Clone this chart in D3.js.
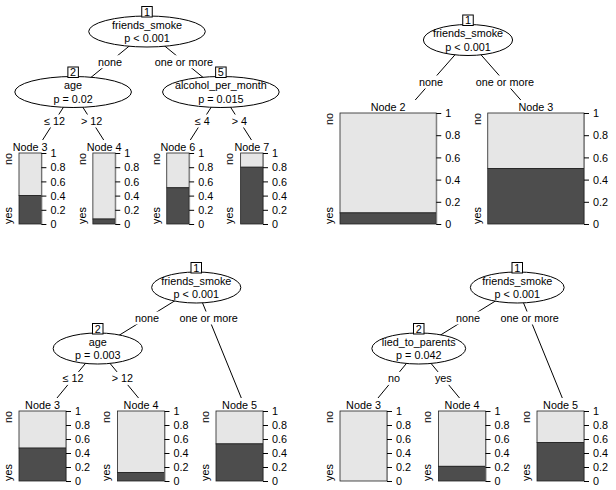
<!DOCTYPE html>
<html><head><meta charset="utf-8">
<script src="https://cdn.jsdelivr.net/npm/d3@7"></script>
<style>
body{margin:0;background:#fff}
svg text{font-family:"Liberation Sans", Arial, Helvetica, sans-serif; font-size:10.8px; fill:#000}
</style>
</head><body>
<svg id="c" width="616" height="490"></svg>
<script>
// ---------- data ----------
const classLevels = ["no", "yes"];
const tickValues = [0, 0.2, 0.4, 0.6, 0.8, 1];
const tickLabels = ["0", "0.2", "0.4", "0.6", "0.8", "1"];

// Tree A (top left)
const aInner = [
  {id: 1, variable: "friends_smoke", p: "p < 0.001", edges: ["none", "one or more"], kids: [2, 5]},
  {id: 2, variable: "age", p: "p = 0.02", edges: ["\u2264 12", "> 12"], kids: [3, 4]},
  {id: 5, variable: "alcohol_per_month", p: "p = 0.015", edges: ["\u2264 4", "> 4"], kids: [6, 7]}
];
const aTerminal = [3, 4, 6, 7];
const aYes = [0.40, 0.07, 0.51, 0.80];

// Tree B (top right)
const bInner = [
  {id: 1, variable: "friends_smoke", p: "p < 0.001", edges: ["none", "one or more"], kids: [2, 3]}
];
const bTerminal = [2, 3];
const bYes = [0.10, 0.50];

// Tree C (bottom left)
const cInner = [
  {id: 1, variable: "friends_smoke", p: "p < 0.001", edges: ["none", "one or more"], kids: [2, 5]},
  {id: 2, variable: "age", p: "p = 0.003", edges: ["\u2264 12", "> 12"], kids: [3, 4]}
];
const cTerminal = [3, 4, 5];
const cYes = [0.47, 0.12, 0.53];

// Tree D (bottom right)
const dInner = [
  {id: 1, variable: "friends_smoke", p: "p < 0.001", edges: ["none", "one or more"], kids: [2, 5]},
  {id: 2, variable: "lied_to_parents", p: "p = 0.042", edges: ["no", "yes"], kids: [3, 4]}
];
const dTerminal = [3, 4, 5];
const dYes = [0.00, 0.21, 0.55];

// ---------- layout (panel geometry) ----------
const panels = [
  {inner: aInner, terminal: aTerminal, yes: aYes, ox: 0,   oy: 0,   xl: -0.75, xr: 294.75, yRoot: 31.5, step: 60.5, yTarget: 150, barTop: 153, barBottom: 224},
  {inner: bInner, terminal: bTerminal, yes: bYes, ox: 308, oy: 0,   xl: 12.25, xr: 307.75, yRoot: 40,   step: 60.5, yTarget: 124, barTop: 113, barBottom: 224},
  {inner: cInner, terminal: cTerminal, yes: cYes, ox: 0,   oy: 245, xl: -0.75, xr: 294.75, yRoot: 42.5, step: 61,   yTarget: 163.3, barTop: 166, barBottom: 236},
  {inner: dInner, terminal: dTerminal, yes: dYes, ox: 308, oy: 245, xl: 12.25, xr: 307.75, yRoot: 42.5, step: 61,   yTarget: 163.3, barTop: 166, barBottom: 236}
];
const RY = 15.5;

const DARK = "#4D4D4D", LIGHT = "#E6E6E6";
const svg = d3.select("#c");

const measurer = svg.append("text").attr("x", -1000).attr("y", -1000);
function textW(s) { measurer.text(s); return measurer.node().getComputedTextLength(); }

function buildTree(inner, terminal, yes) {
  const byId = new Map();
  terminal.forEach((id, i) => byId.set(id, {id, terminal: true, yes: yes[i]}));
  inner.forEach(n => byId.set(n.id, Object.assign({}, n, {terminal: false})));
  inner.forEach(n => { byId.get(n.id).children = n.kids.map(k => byId.get(k)); });
  return byId.get(inner[0].id);
}
function width(n) { return n.terminal ? 1 : d3.sum(n.children, width); }
function posFrac(n) {
  if (n.terminal) return 0.5;
  const w = n.children.map(width), nk = w.length, cs = Array.from(d3.cumsum(w));
  let r;
  if (nk % 2 === 0) r = d3.sum(w.slice(0, nk / 2));
  else r = ((cs[nk / 2 - 1.5] || 0) + cs[nk / 2 - 0.5]) / 2;
  return r / d3.sum(w);
}
function layout(n, xlim, y, P, out) {
  n.xlim = xlim;
  if (n.terminal) { n.x = (xlim[0] + xlim[1]) / 2; n.y = P.yTarget; out.terms.push(n); return; }
  n.x = xlim[0] + posFrac(n) * (xlim[1] - xlim[0]);
  n.y = y;
  out.inner.push(n);
  const w = n.children.map(width), tot = d3.sum(w);
  let acc = xlim[0];
  n.children.forEach((c, i) => {
    const lim = [acc, acc + w[i] / tot * (xlim[1] - xlim[0])];
    acc = lim[1];
    layout(c, lim, y + P.step, P, out);
  });
}

panels.forEach(P => {
  const root = buildTree(P.inner, P.terminal, P.yes);
  const out = {inner: [], terms: []};
  layout(root, [P.xl, P.xr], P.yRoot, P, out);
  const g = svg.append("g").attr("transform", `translate(${P.ox},${P.oy})`);

  // ellipse width from the longest label (by characters), as partykit does
  const labels = out.inner.flatMap(n => [n.variable, n.p]);
  const longest = labels.reduce((a, b) => (b.length > a.length ? b : a), "");
  const rx = textW(longest) * 1.27 / 2;

  // edges
  out.inner.forEach(n => {
    n.children.forEach(c => {
      g.append("line").attr("x1", n.x).attr("y1", n.y).attr("x2", c.x).attr("y2", c.y)
        .attr("stroke", "#000").attr("stroke-width", 1);
    });
  });

  // inner nodes
  out.inner.forEach(n => {
    g.append("ellipse").attr("cx", n.x).attr("cy", n.y).attr("rx", rx).attr("ry", RY)
      .attr("fill", "#fff").attr("stroke", "#000");
    g.append("text").attr("x", n.x).attr("y", n.y - 6.75).attr("dy", "0.35em")
      .attr("text-anchor", "middle").text(n.variable);
    g.append("text").attr("x", n.x).attr("y", n.y + 6.75).attr("dy", "0.35em")
      .attr("text-anchor", "middle").text(n.p);
    const idW = Math.max(10.5, textW(String(n.id)) * 1.3 + 2);
    const boxBottom = n.y - RY + 1;
    g.append("rect").attr("x", n.x - idW / 2).attr("y", boxBottom - 10.5)
      .attr("width", idW).attr("height", 10.5).attr("fill", "#fff").attr("stroke", "#000");
    g.append("text").attr("x", n.x).attr("y", boxBottom - 5.25).attr("dy", "0.35em")
      .attr("text-anchor", "middle").text(n.id);
  });

  // edge labels
  out.inner.forEach(n => {
    const yl = (n.y + d3.min(n.children, c => c.y)) / 2;
    n.children.forEach((c, i) => {
      const xl = n.x + (c.x - n.x) * (yl - n.y) / (c.y - n.y);
      const lab = n.edges[i];
      const tw = textW(lab);
      g.append("rect").attr("x", xl - tw / 2 - 1).attr("y", yl - 6.5).attr("width", tw + 2).attr("height", 13)
        .attr("fill", "#fff");
      g.append("text").attr("x", xl).attr("y", yl).attr("dy", "0.35em")
        .attr("text-anchor", "middle").text(lab);
    });
  });

  // terminal panels
  const y = d3.scaleLinear().domain([0, 1]).range([P.barBottom, P.barTop]);
  out.terms.forEach(t => {
    const sp = t.xlim[1] - t.xlim[0];
    const bw = sp - 51.5;
    const bc = t.x - 6;
    const bl = bc - bw / 2, br = bc + bw / 2;
    g.append("rect").attr("x", t.xlim[0]).attr("y", P.barTop - 13).attr("width", sp)
      .attr("height", P.barBottom - P.barTop + 13).attr("fill", "#fff");
    g.append("text").attr("x", bc).attr("y", P.barTop - 6).attr("dy", "0.35em")
      .attr("text-anchor", "middle").text("Node " + t.id);
    // stacked bar: yes (dark) at bottom, no (light) on top
    g.append("rect").attr("x", bl).attr("width", bw)
      .attr("y", y(1)).attr("height", y(t.yes) - y(1))
      .attr("fill", LIGHT).attr("stroke", "#222").attr("stroke-width", 0.8);
    g.append("rect").attr("x", bl).attr("width", bw)
      .attr("y", y(t.yes)).attr("height", y(0) - y(t.yes))
      .attr("fill", DARK).attr("stroke", "#222").attr("stroke-width", 0.8);
    // axis
    const ax = g.append("g").attr("transform", `translate(${br},0)`)
      .call(d3.axisRight(y).tickValues(tickValues).tickFormat((d, i) => tickLabels[i])
        .tickSize(5).tickSizeOuter(0).tickPadding(4));
    ax.attr("font-size", null).attr("font-family", null);
    ax.select(".domain").attr("stroke", "#888");
    ax.selectAll(".tick line").attr("stroke", "#000");
    ax.selectAll(".tick text").attr("fill", "#000").attr("dy", "0.35em");
    // class labels
    g.append("text").attr("transform", `translate(${bl - 11},${P.barTop}) rotate(-90)`)
      .attr("dy", "0.35em").attr("text-anchor", "end").text(classLevels[0]);
    g.append("text").attr("transform", `translate(${bl - 11},${P.barBottom}) rotate(-90)`)
      .attr("dy", "0.35em").attr("text-anchor", "start").text(classLevels[1]);
  });
});
measurer.remove();
</script>
</body></html>
